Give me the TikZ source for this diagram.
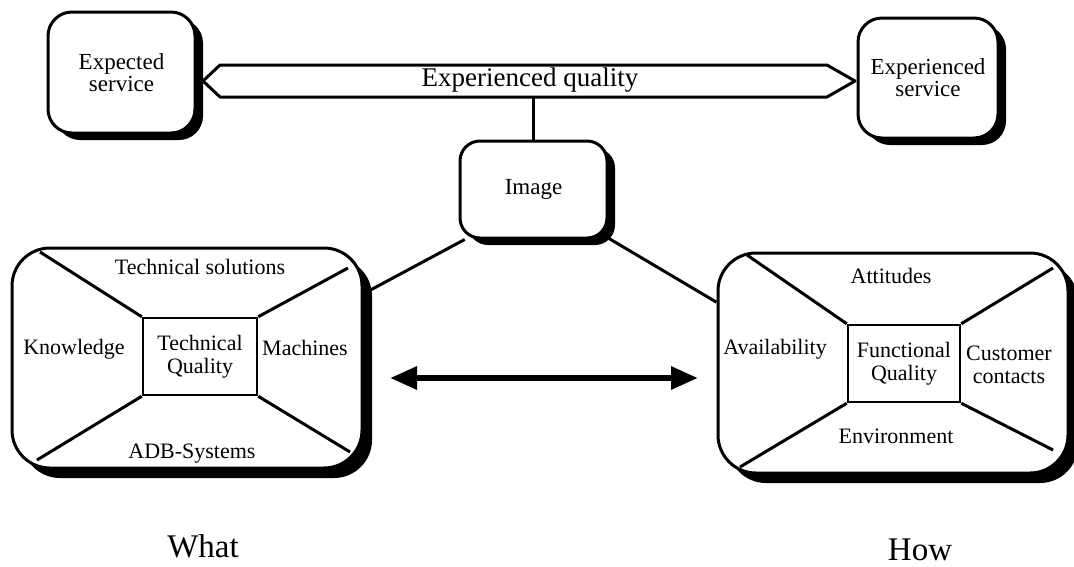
\documentclass[tikz,border=0pt]{standalone}
\usepackage{fontspec}
\setmainfont{Liberation Serif}
\usetikzlibrary{shadows,arrows.meta}

\tikzset{
  shadowbox/.style={draw,line width=3pt,fill=white,inner sep=0pt,align=center},
  smallbox/.style={shadowbox,rounded corners=24pt,
    drop shadow={shadow xshift=8pt,shadow yshift=-7pt,fill=black,opacity=1}},
  bigbox/.style={shadowbox,rounded corners=38pt,minimum width=350pt,minimum height=220pt,
    drop shadow={shadow xshift=10pt,shadow yshift=-10pt,fill=black,opacity=1}},
  core/.style={draw,line width=2.5pt,fill=white,inner sep=0pt,minimum height=77pt,align=center},
  txt/.style={font=\fontsize{22}{23}\selectfont,align=center,inner sep=0pt},
  link/.style={line width=3pt,line join=round},
}

\begin{document}
\begin{tikzpicture}[x=1pt,y=-1pt,>={Triangle[length=27pt,width=22pt]},font=\fontsize{22}{23}\selectfont]
\useasboundingbox (0,0) rectangle (1074,566);

% top row
\node[smallbox,minimum width=147pt,minimum height=121pt,font=\fontsize{23}{22}\selectfont] (exp) at (121.5,72.5) {Expected\\service};
\node[smallbox,minimum width=140pt,minimum height=120pt,font=\fontsize{23}{22}\selectfont] (exs) at (928,78) {Experienced\\service};
\coordinate (q1) at (220,65);
\coordinate (q2) at (827,65);
\coordinate (q3) at (855,81);
\coordinate (q4) at (827,97);
\coordinate (q5) at (220,97);
\coordinate (q6) at (203,81);
\draw[link] (q1) -- (q2) -- (q3) -- (q4) -- (q5) -- (q6) -- cycle;
\node[font=\fontsize{27}{27}\selectfont,inner sep=0pt] (eq) at (530,80) {Experienced quality};

\node[smallbox,rounded corners=20pt,minimum width=147pt,minimum height=97pt,font=\fontsize{23}{23}\selectfont] (img) at (533.5,189.5) {Image};
\draw[link] (img.north) -- (img.north |- q5);

% left block
\node[bigbox] (lbox) at (187,358) {};
\coordinate (l1) at (40,252);
\coordinate (l2) at (348,268);
\coordinate (l3) at (37,460);
\coordinate (l4) at (350,452);
\node[core,minimum width=114pt] (ltq) at (200,356.5) {};
\draw[link] (ltq.north west) -- (l1);
\draw[link] (ltq.north east) -- (l2);
\draw[link] (ltq.south west) -- (l3);
\draw[link] (ltq.south east) -- (l4);
\node[core,minimum width=114pt] at (ltq) {Technical\\Quality};
\node[txt] (tsol) at (200,267) {Technical solutions};
\node[txt] (know) at (74,349) {Knowledge};
\node[txt] (mach) at (305,348) {Machines};
\node[txt] (adb) at (192,454) {ADB-Systems};

% right block
\node[bigbox] (rbox) at (893,363) {};
\coordinate (r1) at (747,255);
\coordinate (r2) at (1053,268);
\coordinate (r3) at (740,467);
\coordinate (r4) at (1053,450);
\node[core,minimum width=112pt] (rfq) at (904,363.5) {};
\draw[link] (rfq.north west) -- (r1);
\draw[link] (rfq.north east) -- (r2);
\draw[link] (rfq.south west) -- (r3);
\draw[link] (rfq.south east) -- (r4);
\node[core,minimum width=112pt] at (rfq) {Functional\\Quality};
\node[txt] (att) at (891,276) {Attitudes};
\node[txt] (avail) at (775,349) {Availability};
\node[txt] (cust) at (1009,365) {Customer\\contacts};
\node[txt] (env) at (896,436) {Environment};

% links
\draw[link] (img.-144) -- (lbox.20);
\draw[link] (img.-33) -- (rbox.161);
\coordinate (aw) at (390,378);
\coordinate (ae) at (698,378);
\draw[<->,line width=6pt] (aw) -- (ae);

\node[font=\fontsize{33}{33}\selectfont,inner sep=0pt] (what) at (203,546) {What};
\node[font=\fontsize{33}{33}\selectfont,inner sep=0pt] (how) at (920,550) {How};

\end{tikzpicture}
\end{document}
